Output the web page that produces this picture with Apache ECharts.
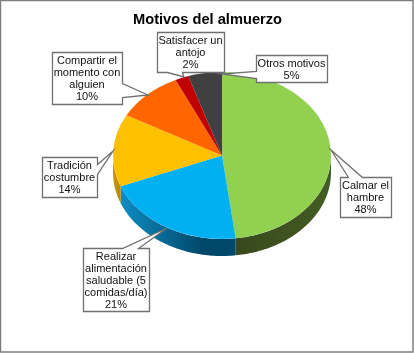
<!DOCTYPE html>
<html>
<head>
<meta charset="utf-8">
<style>
  html, body { margin: 0; padding: 0; background: #fff; }
  #chart { width: 414px; height: 353px; }
</style>
<script src="https://cdn.jsdelivr.net/npm/echarts@6/dist/echarts.min.js"></script>
</head>
<body>
<div id="chart"></div>
<script>
const titleText = 'Motivos del almuerzo';
const categories = [
  'Calmar el\nhambre',
  'Realizar\nalimentación\nsaludable (5\ncomidas/día)',
  'Tradición\ncostumbre',
  'Compartir el\nmomento con\nalguien',
  'Satisfacer un\nantojo',
  'Otros motivos'
];
const values = [48, 21, 14, 10, 2, 5];
const topColors = ['#92D050', '#00B0F0', '#FFC000', '#FF6600', '#C00000', '#404040'];
const sideStops = [
  [[0, '#38491C'], [1, '#435C24']],
  [[0, '#0F8DC2'], [0.72, '#00476A'], [1, '#00496B']],
  [[0, '#C99700'], [1, '#B88A00']],
  [[0, '#A84400'], [1, '#A84400']],
  [[0, '#800000'], [1, '#800000']],
  [[0, '#2A2A2A'], [1, '#2A2A2A']]
];

// callout boxes: x, y, w, h, pointer tip, side of the base and where it sits on that side
const boxes = [
  { box: [340, 177, 51, 40], tip: [331, 150], side: 'top', base: [348, 362] },
  { box: [83, 248, 66, 63], tip: [167, 228], side: 'top', base: [122, 138] },
  { box: [42, 157, 55, 40], tip: [113, 151], side: 'right', base: [164, 174] },
  { box: [52, 52, 70, 52], tip: [148, 95], side: 'right', base: [83, 97] },
  { box: [157, 32, 67, 40], tip: [184, 77], side: 'bottom', base: [167, 182] },
  { box: [256, 55, 71, 27], tip: [222, 74], side: 'left', base: [71, 78] }
];

const cx = 222, cy = 155.5, rx = 109, ry = 83.5, depth = 17;
const total = values.reduce((a, b) => a + b, 0);

function sliceAngles(idx) {
  let before = 0;
  for (let i = 0; i < idx; i++) before += values[i];
  const a0 = -Math.PI / 2 + before / total * Math.PI * 2;
  return [a0, a0 + values[idx] / total * Math.PI * 2];
}

function renderSide(params, api) {
  const i = params.dataIndex;
  const ang = sliceAngles(i);
  const a0 = Math.max(ang[0], 0);
  const a1 = Math.min(ang[1], Math.PI);
  if (a1 <= a0) return null;
  const upper = [], lower = [];
  const steps = Math.ceil((a1 - a0) / 0.02);
  for (let s = 0; s <= steps; s++) {
    const a = a0 + (a1 - a0) * s / steps;
    const x = cx + rx * Math.cos(a), y = cy + ry * Math.sin(a);
    upper.push([x, y]);
    lower.unshift([x, y + depth]);
  }
  return {
    type: 'polygon',
    shape: { points: upper.concat(lower) },
    style: {
      fill: new echarts.graphic.LinearGradient(0, 0, 1, 0,
        sideStops[i].map(s => ({ offset: s[0], color: s[1] })))
    }
  };
}

function renderTop(params, api) {
  const i = params.dataIndex;
  const ang = sliceAngles(i);
  return {
    type: 'sector',
    originX: cx,
    originY: cy,
    scaleY: ry / rx,
    shape: { cx: cx, cy: cy, r0: 0, r: rx, startAngle: ang[0], endAngle: ang[1], clockwise: true },
    style: { fill: topColors[i] }
  };
}

function calloutPoints(c) {
  const x = c.box[0] + 0.5, y = c.box[1] + 0.5, w = c.box[2], h = c.box[3];
  const pts = [[x, y]];
  if (c.side === 'top') pts.push([c.base[0] + 0.5, y], c.tip, [c.base[1] + 0.5, y]);
  pts.push([x + w, y]);
  if (c.side === 'right') pts.push([x + w, c.base[0] + 0.5], c.tip, [x + w, c.base[1] + 0.5]);
  pts.push([x + w, y + h]);
  if (c.side === 'bottom') pts.push([c.base[1] + 0.5, y + h], c.tip, [c.base[0] + 0.5, y + h]);
  pts.push([x, y + h]);
  if (c.side === 'left') pts.push([x, c.base[1] + 0.5], c.tip, [x, c.base[0] + 0.5]);
  return pts;
}

const callouts = [];
boxes.forEach((c, i) => {
  callouts.push({
    type: 'polygon',
    z: 10,
    shape: { points: calloutPoints(c) },
    style: { fill: '#fff', stroke: '#707070', lineWidth: 1.3 }
  });
  callouts.push({
    type: 'text',
    z: 11,
    x: c.box[0] + c.box[2] / 2,
    y: c.box[1] + c.box[3] / 2 + 1,
    style: {
      text: categories[i] + '\n' + values[i] + '%',
      fill: '#111',
      font: '11px "Liberation Sans", Arial, sans-serif',
      lineHeight: 12,
      align: 'center',
      verticalAlign: 'middle'
    }
  });
});

// outer frame
callouts.push({
  type: 'rect',
  z: 1,
  shape: { x: 0.5, y: 0.5, width: 412.5, height: 351.5 },
  style: { fill: 'transparent', stroke: '#7F7F7F', lineWidth: 1.5 }
});

const chart = echarts.init(document.getElementById('chart'), null, { renderer: 'canvas' });
chart.setOption({
  animation: false,
  backgroundColor: '#fff',
  title: {
    text: titleText,
    left: 133,
    top: 12,
    textStyle: {
      color: '#000',
      fontFamily: '"Liberation Sans", Arial, sans-serif',
      fontSize: 14.67,
      fontWeight: 'bold'
    },
    padding: 0
  },
  graphic: callouts,
  series: [
    { type: 'custom', coordinateSystem: 'none', z: 2, silent: true, renderItem: renderSide, data: values },
    { type: 'custom', coordinateSystem: 'none', z: 3, silent: true, renderItem: renderTop, data: values }
  ]
});
</script>
</body>
</html>
